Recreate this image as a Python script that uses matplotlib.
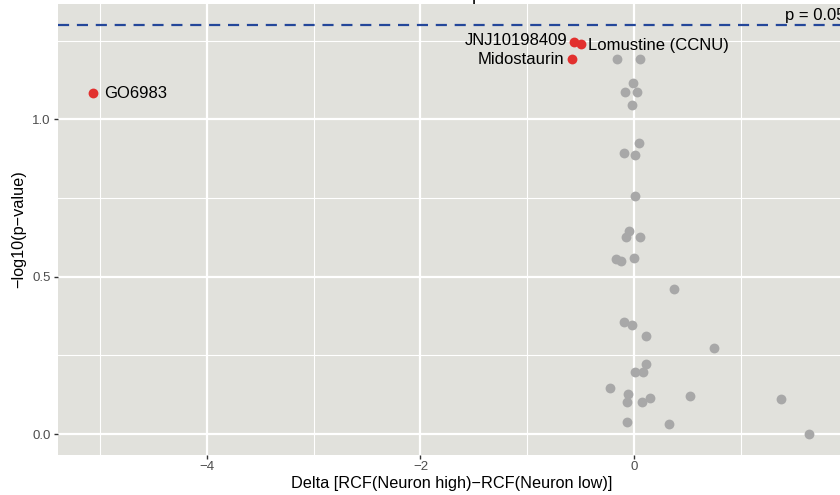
import matplotlib
matplotlib.use("Agg")
import matplotlib.pyplot as plt
from matplotlib.ticker import MultipleLocator

plt.rcParams['font.family'] = ['Liberation Sans', 'DejaVu Sans']

# highlighted drugs
hit_names = ["GO6983", "JNJ10198409", "Lomustine (CCNU)", "Midostaurin"]
hit_delta = [-5.06, -0.56, -0.495, -0.58]
hit_logp = [1.083, 1.245, 1.239, 1.191]

# remaining drugs (grey)
other_delta = [-0.16, 0.05, -0.012, -0.084, 0.025, -0.02,
               0.04, -0.093, 0.003, 0.006, -0.053, -0.081, 0.056,
               -0.171, -0.124, -0.006, 0.374, -0.097, -0.019, 0.109,
               0.748, 0.112, 0.009, 0.081, -0.224, -0.059, 0.517,
               0.143, 1.374, -0.072, 0.068, -0.072, 0.324, 1.636]
other_logp = [1.193, 1.193, 1.115, 1.087, 1.087, 1.047,
              0.926, 0.894, 0.887, 0.758, 0.646, 0.625, 0.626,
              0.556, 0.550, 0.561, 0.460, 0.355, 0.347, 0.311,
              0.273, 0.222, 0.198, 0.198, 0.145, 0.128, 0.122,
              0.114, 0.110, 0.103, 0.101, 0.038, 0.031, 0.0]

cutoff = 1.301  # -log10(0.05)

W, H = 840, 495
fig = plt.figure(figsize=(8.4, 4.95), dpi=100)
# panel runs a bit past the right edge of the picture
ax = fig.add_axes([57.5 / W, (H - 454.5) / H, (845 - 57.5) / W, (454.5 - 4) / H])

ax.set_facecolor("#E1E1DC")
for s in ax.spines.values():
    s.set_visible(False)

ax.set_xlim(-5.395, 1.971)
ax.set_ylim(-0.065, 1.367)
ax.xaxis.set_major_locator(MultipleLocator(2))
ax.xaxis.set_minor_locator(MultipleLocator(1))
ax.yaxis.set_major_locator(MultipleLocator(0.5))
ax.yaxis.set_minor_locator(MultipleLocator(0.25))
ax.grid(which='major', color='white', lw=1.6)
ax.grid(which='minor', color='white', lw=0.8)
ax.set_axisbelow(True)
ax.tick_params(which='major', length=3, width=1, color='#333333',
               labelcolor='#4D4D4D', labelsize=9.5, pad=2)
ax.tick_params(which='minor', length=0)
ax.set_yticks([0.0, 0.5, 1.0])
ax.set_yticklabels(["0.0", "0.5", "1.0"])
ax.set_xticks([-4, -2, 0])
ax.set_xticklabels(["\u22124", "\u22122", "0"])

ax.axhline(cutoff, color='#24479A', lw=1.6, ls=(0, (5, 3.5)), zorder=2)

ax.scatter(other_delta, other_logp, s=50, color='#A8A8A8', lw=0, zorder=3)
ax.scatter(hit_delta, hit_logp, s=50, color='#E2302E', lw=0, zorder=4)

# labels next to the red points
fs = 12
ax.annotate(hit_names[0], (hit_delta[0], hit_logp[0]), xytext=(8, 0),
            textcoords='offset points', ha='left', va='center', fontsize=fs)
ax.annotate(hit_names[1], (hit_delta[1], hit_logp[1]), xytext=(-5, 1.5),
            textcoords='offset points', ha='right', va='center', fontsize=fs)
ax.annotate(hit_names[2], (hit_delta[2], hit_logp[2]), xytext=(5, -1),
            textcoords='offset points', ha='left', va='center', fontsize=fs)
ax.annotate(hit_names[3], (hit_delta[3], hit_logp[3]), xytext=(-6, 0),
            textcoords='offset points', ha='right', va='center', fontsize=fs)

ax.text(1.41, cutoff + 0.006, "p = 0.05", ha='left', va='bottom', fontsize=fs)

ax.set_xlabel("Delta [RCF(Neuron high)\u2212RCF(Neuron low)]", fontsize=11.7, labelpad=2)
ax.set_ylabel("\u2212log10(p\u2212value)", fontsize=11.7, labelpad=4)

# only the descender of the title shows above the panel
fig.text(472 / W, 1.0, "p", ha='left', va='baseline', fontsize=13)

fig.savefig("out.png", dpi=100)
